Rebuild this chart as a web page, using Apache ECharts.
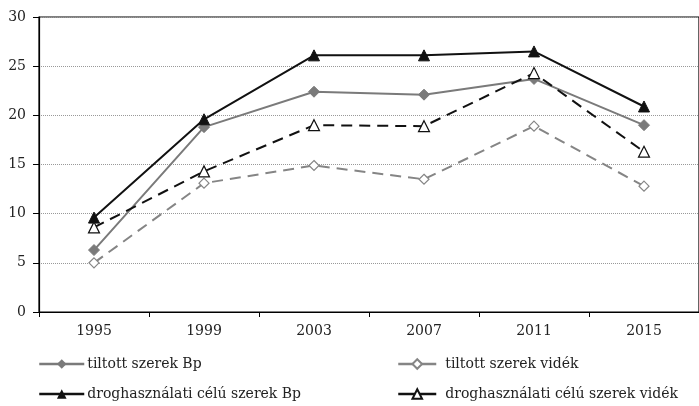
<!DOCTYPE html>
<html>
<head>
<meta charset="utf-8">
<script src="https://cdn.jsdelivr.net/npm/echarts@6/dist/echarts.min.js"></script>
<style>
  html, body { margin: 0; padding: 0; background: #fff; }
  #box { width: 699px; height: 406px; }
</style>
</head>
<body>
<div id="box"></div>
<script>
var years = ['1995', '1999', '2003', '2007', '2011', '2015'];
var tiltottBp = [6.3, 18.8, 22.4, 22.1, 23.7, 19.0];
var tiltottVidek = [5.0, 13.1, 14.9, 13.5, 18.9, 12.8];
var drogBp = [9.6, 19.6, 26.1, 26.1, 26.5, 20.9];
var drogVidek = [8.6, 14.3, 19.0, 18.9, 24.3, 16.3];
var names = ['tiltott szerek Bp', 'tiltott szerek vidék', 'droghasználati célú szerek Bp', 'droghasználati célú szerek vidék'];

var font = '"DejaVu Serif", "Liberation Serif", serif';
var chart = echarts.init(document.getElementById('box'));

// one legend per entry so they sit in two columns like the original
function legendAt(name, left, top, w, gap) {
    return {
        data: [name],
        left: left,
        top: top,
        itemWidth: w,
        itemHeight: 12,
        padding: 0,
        lineStyle: { type: 'solid', width: 2.5 },
        textStyle: { fontFamily: font, fontSize: 14, color: '#222', padding: [0, 0, 0, gap] }
    };
}

var option = {
    animation: false,
    grid: {
        left: 39, top: 17, bottom: 94, width: 666,
        show: true, borderColor: '#000', borderWidth: 1.2
    },
    legend: [
        legendAt(names[0], 38, 357, 45, -2),
        legendAt(names[1], 397, 357, 38, 4),
        legendAt(names[2], 38, 387, 45, -2),
        legendAt(names[3], 397, 387, 38, 4)
    ],
    xAxis: {
        type: 'category',
        data: years,
        boundaryGap: true,
        axisLine: { lineStyle: { color: '#000', width: 1.2 } },
        axisTick: { show: true, length: 5, lineStyle: { color: '#000' } },
        axisLabel: { fontFamily: font, fontSize: 14, color: '#222', margin: 12 }
    },
    yAxis: {
        type: 'value',
        min: 0, max: 30, interval: 5,
        axisLine: { show: true, lineStyle: { color: '#000', width: 1.2 } },
        axisTick: { show: true, length: 6, lineStyle: { color: '#000' } },
        axisLabel: { fontFamily: font, fontSize: 14, color: '#222', margin: 13 },
        splitLine: { show: true, lineStyle: { color: '#999', type: 'dotted', width: 1 } }
    },
    series: [
        {
            name: names[0], type: 'line', data: tiltottBp,
            symbol: 'diamond', symbolSize: 11,
            lineStyle: { color: '#7a7a7a', width: 2 },
            itemStyle: { color: '#7a7a7a', borderColor: '#7a7a7a' }
        },
        {
            name: names[1], type: 'line', data: tiltottVidek,
            symbol: 'diamond', symbolSize: 10,
            lineStyle: { color: '#858585', width: 2, type: [11, 7] },
            itemStyle: { color: '#fff', borderColor: '#858585', borderWidth: 1.2 }
        },
        {
            name: names[2], type: 'line', data: drogBp,
            symbol: 'triangle', symbolSize: 11,
            lineStyle: { color: '#111', width: 2 },
            itemStyle: { color: '#111', borderColor: '#111' }
        },
        {
            name: names[3], type: 'line', data: drogVidek,
            symbol: 'triangle', symbolSize: 11,
            lineStyle: { color: '#111', width: 2, type: [11, 7] },
            itemStyle: { color: '#fff', borderColor: '#111', borderWidth: 1.2 }
        }
    ]
};

chart.setOption(option, true);
</script>
</body>
</html>
